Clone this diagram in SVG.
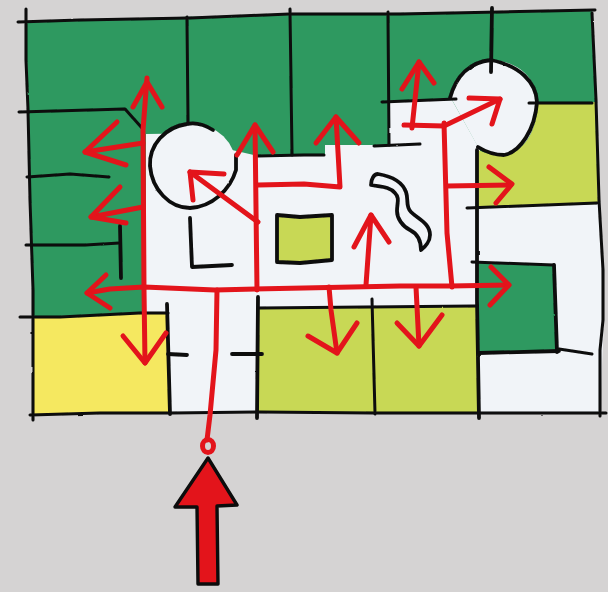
<svg xmlns="http://www.w3.org/2000/svg" width="608" height="592" viewBox="0 0 608 592">
<defs>
<filter id="wob" x="-5%" y="-5%" width="110%" height="110%"><feTurbulence type="fractalNoise" baseFrequency="0.08" numOctaves="2" seed="4"/><feDisplacementMap in="SourceGraphic" scale="1.6" xChannelSelector="R" yChannelSelector="G"/></filter>
</defs>
<style>
.k{fill:none;stroke:#0c0c0c;stroke-width:3;stroke-linecap:round;stroke-linejoin:round}
.kt{fill:none;stroke:#0c0c0c;stroke-width:3.8;stroke-linecap:round;stroke-linejoin:round}
.r{fill:none;stroke:#e3141b;stroke-width:5;stroke-linecap:round;stroke-linejoin:round}
.g{fill:#2e9960}.w{fill:#f1f4f8}.l{fill:#c8d855}.y{fill:#f5e860}
</style>
<rect width="608" height="592" fill="#d5d3d3"/>
<g id="fills">
<path class="g" d="M26,21 L290,14 L592,11 L596,104 L598,300 L480,300 L258,300 L258,320 L33,320 Z"/>
<path class="w" d="M146,134 L217,133 L232,150 L258,156 L325,155 L325,145 L388,145 L388,102 L452,100 L480,150 L478,207 L598,204 L604,320 L600,413 L170,413 L168,313 L146,313 Z"/>
<ellipse class="w" cx="193" cy="166" rx="43" ry="42"/>
<path class="w" d="M451,98 C455,75 472,61 491,60 C518,61 537,78 537,102 C538,130 524,155 500,155 C490,155 484,151 478,147 Z"/>
<path class="l" d="M478,150 C485,153 492,155 500,155 C524,155 538,130 537,103 L595,102 L598,204 L478,208 Z"/>
<path class="l" d="M258,308 L478,306 L478,413 L258,412 Z"/>
<path class="l" d="M277,215 L332,215 L332,260 L277,262 Z"/>
<path class="y" d="M33,317 L168,313 L170,413 L33,415 Z"/>
<path class="g" d="M478,263 L555,265 L558,351 L479,353 Z"/>
</g>
<g id="linework" filter="url(#wob)">
<path class="k" d="M18,22 L80,20 L190,18 L290,14 L400,14 L500,12 L595,10"/>
<path class="k" d="M26,9 L26,60 L28,110 L30,200 L33,290 L33,420"/>
<path class="k" d="M592,13 L596,100 L599,200 L603,270 L603,320 L600,350 L600,416"/>
<path class="k" d="M30,415 L100,413 L170,413 L258,412 L375,413 L478,413 L606,413"/>
<path class="k" d="M187,17 L188,124"/>
<path class="k" d="M290,9 L292,155"/>
<path class="k" d="M388,12 L389,145"/>
<path class="kt" d="M492,8 L491,72"/>
<path class="k" d="M19,112 L125,109 L142,128"/>
<path class="k" d="M27,177 L70,174 L109,177"/>
<path class="k" d="M26,245 L85,245 L120,243"/>
<path class="kt" d="M120,226 L121,278"/>
<path class="k" d="M20,317 L60,317 L140,313 L168,313"/>
<path class="kt" d="M167,304 L170,414"/>
<path class="kt" d="M168,354 L187,355"/>
<path class="kt" d="M232,354 L262,354"/>
<path class="kt" d="M258,297 L257,418"/>
<path class="k" d="M258,308 L476,306"/>
<path class="k" d="M372,299 L375,414"/>
<path class="kt" d="M477,150 L477,300 L479,418"/>
<path class="k" d="M467,208 L597,203"/>
<path class="k" d="M472,262 L554,265"/>
<path class="kt" d="M554,265 L557,352"/>
<path class="kt" d="M479,353 L559,351"/>
<path class="k" d="M559,349 L592,354"/>
<path class="k" d="M529,103 L592,103"/>
<path class="k" d="M382,102 L456,99"/>
<path class="k" d="M374,146 L420,144"/>
<path class="k" d="M257,156 L304,155 L324,155"/>
<path class="kt" d="M190,218 L192,267 L232,265"/>
<path class="kt" d="M277,215 L300,217 L332,215 L332,260 L300,263 L277,262 Z"/>
<path class="kt" d="M371,185 C371,179 374,174 378,174 C390,176 402,181 406,192 C409,200 405,206 411,212 C418,219 430,223 430,235 C430,241 425,247 421,250 C421,240 418,234 410,230 C402,226 397,218 397,211 C397,203 400,198 395,193 C389,186 380,187 371,185 Z"/>
<path class="kt" d="M213,130 C205,125 196,122 187,124 C165,127 149,145 150,166 C152,190 170,208 190,208 C212,207 230,190 236,170 L236,155"/>
<path class="kt" d="M478,147 C486,152 494,155 504,155 C520,152 535,130 537,102 C536,82 520,66 491,60 C470,62 456,76 450,98"/>
</g>
<g id="connectors">
<path class="r" d="M147,78 L143,130 L144,290 L145,363"/>
<path class="r" d="M133,107 L147,82 L162,107"/>
<path class="r" d="M143,143 L85,152"/>
<path class="r" d="M117,122 L85,152 L126,165"/>
<path class="r" d="M143,207 L91,217"/>
<path class="r" d="M120,187 L91,217 L126,223"/>
<path class="r" d="M87,293 L110,289 L144,287 L215,290 L304,288 L400,286 L450,286 L509,285"/>
<path class="r" d="M106,275 L87,293 L110,308"/>
<path class="r" d="M491,267 L509,285 L490,305"/>
<path class="r" d="M123,336 L145,363 L166,333"/>
<path class="r" d="M217,290 L216,350 L210,415 L207,440"/>
<ellipse cx="208" cy="446" rx="5.5" ry="6.5" fill="none" stroke="#e3141b" stroke-width="5"/>
<path class="r" d="M255,125 L257,290"/>
<path class="r" d="M237,155 L255,125 L273,152"/>
<path class="r" d="M258,222 L190,172"/>
<path class="r" d="M224,174 L190,172 L193,200"/>
<path class="r" d="M258,185 L304,184 L340,187 L336,117"/>
<path class="r" d="M316,143 L336,117 L359,143"/>
<path class="r" d="M366,285 L371,215"/>
<path class="r" d="M354,247 L371,215 L389,242"/>
<path class="r" d="M444,123 L447,233 L452,287"/>
<path class="r" d="M447,186 L511,185"/>
<path class="r" d="M489,167 L512,184 L496,203"/>
<path class="r" d="M404,125 L444,126 L500,99"/>
<path class="r" d="M469,98 L500,99 L492,124"/>
<path class="r" d="M412,128 L419,62"/>
<path class="r" d="M402,89 L419,62 L434,83"/>
<path class="r" d="M329,287 L331,310 L337,353"/>
<path class="r" d="M308,336 L337,353 L357,323"/>
<path class="r" d="M416,287 L419,346"/>
<path class="r" d="M397,323 L419,346 L442,315"/>
</g>
<g id="entry-arrow">
<path d="M208,458 L237,505 L217,506 L218,584 L198,584 L197,507 L175,507 Z" fill="#e3141b" stroke="#0c0c0c" stroke-width="3.4" stroke-linejoin="round"/>
</g>
</svg>
